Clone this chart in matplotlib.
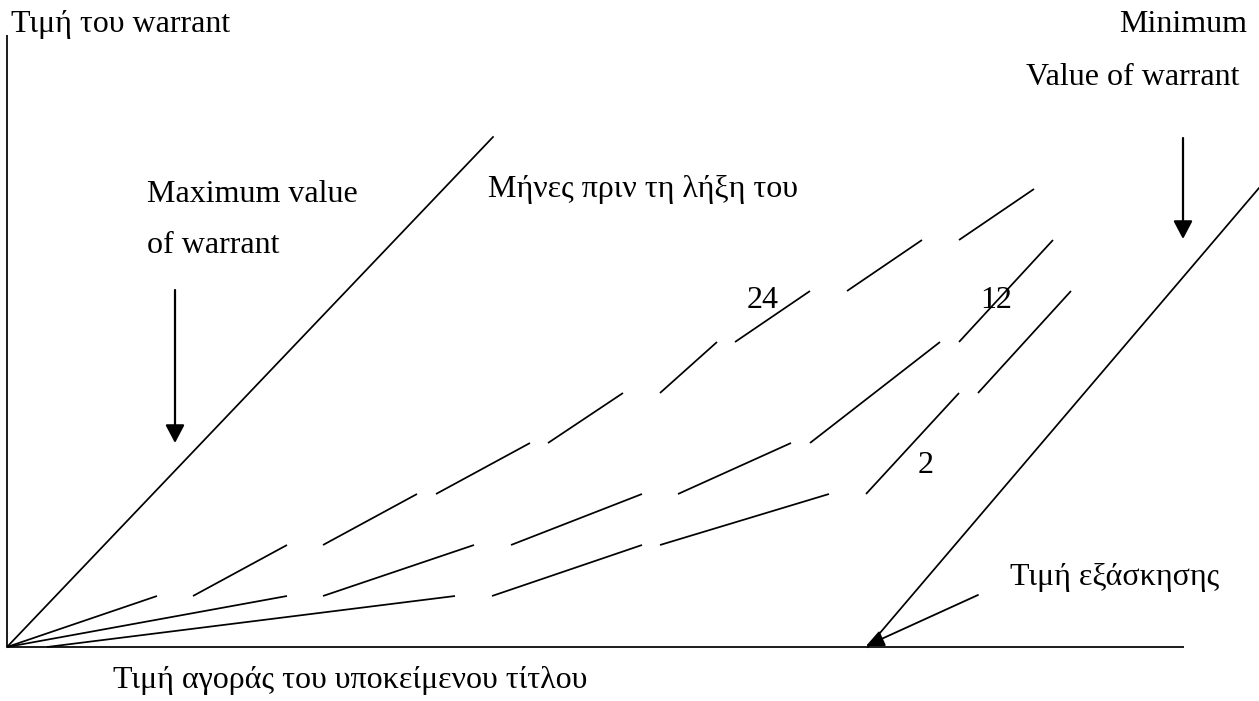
import matplotlib
matplotlib.use("Agg")
import matplotlib.pyplot as plt

# ---- data (diagram coordinates: x = market price of the underlying, y = warrant price) ----
axis_y_top = 612
axis_x_right = 1177

max_line_x = [0, 486]
max_line_y = [0, 510]

min_line_x = [861, 1252]
min_line_y = [0, 459]

# dashed curves: each entry is a segment [x0, x1], [y0, y1]
curve24_x = [[0, 150], [186, 280], [316, 410], [429, 523], [541, 616],
             [653, 710], [728, 803], [840, 915], [952, 1027]]
curve24_y = [[0, 51], [51, 102], [102, 153], [153, 204], [204, 254],
             [254, 305], [305, 356], [356, 407], [407, 458]]

curve12_x = [[0, 280], [316, 467], [504, 635], [671, 784], [803, 933], [952, 1046]]
curve12_y = [[0, 51], [51, 102], [102, 153], [153, 204], [204, 305], [305, 407]]

curve2_x = [[40, 448], [485, 635], [653, 822], [859, 952], [971, 1064]]
curve2_y = [[0, 51], [51, 102], [102, 153], [153, 254], [254, 356]]

curve_labels = ["24", "12", "2"]
curve_label_pos = [(740, 339), (973, 339), (911, 174)]

fig = plt.figure(figsize=(12.59, 7.01), dpi=100)
ax = fig.add_axes([0, 0, 1, 1])
ax.set_xlim(-7, 1252)
ax.set_ylim(-54, 647)
ax.axis("off")

FONT = ["Liberation Serif", "DejaVu Serif"]
FS = 23
LW = 1.25

# axes of the diagram
ax.plot([0, 0], [0, axis_y_top], color="black", lw=LW, solid_capstyle="butt")
ax.plot([0, axis_x_right], [0, 0], color="black", lw=LW, solid_capstyle="butt")

# max and min value lines
ax.plot(max_line_x, max_line_y, color="black", lw=LW)
ax.plot(min_line_x, min_line_y, color="black", lw=LW)

# dashed curves
for xs, ys in ((curve24_x, curve24_y), (curve12_x, curve12_y), (curve2_x, curve2_y)):
    for sx, sy in zip(xs, ys):
        ax.plot(sx, sy, color="black", lw=LW, solid_capstyle="butt")

for lab, (lx, ly) in zip(curve_labels, curve_label_pos):
    ax.text(lx, ly, lab, family=FONT, fontsize=FS, ha="left", va="baseline")

# arrows
aprops = dict(arrowstyle="-|>,head_length=0.55,head_width=0.29", color="black",
              lw=1.6, shrinkA=0, shrinkB=0, mutation_scale=20)
ax.annotate("", xy=(168, 204), xytext=(168, 357), arrowprops=aprops)
ax.annotate("", xy=(1176, 408), xytext=(1176, 509), arrowprops=aprops)
aprops2 = dict(arrowstyle="-|>,head_length=0.55,head_width=0.25", color="black",
               lw=1.3, shrinkA=0, shrinkB=0, mutation_scale=20)
ax.annotate("", xy=(859, 1), xytext=(971, 52), arrowprops=aprops2)

# texts
ax.text(4, 615, "Τιμή του warrant", family=FONT, fontsize=FS, ha="left", va="baseline")
ax.text(1240, 615, "Minimum", family=FONT, fontsize=FS, ha="right", va="baseline")
ax.text(1233, 562, "Value of warrant", family=FONT, fontsize=FS, ha="right", va="baseline")
ax.text(140, 445, "Maximum value", family=FONT, fontsize=FS, ha="left", va="baseline")
ax.text(140, 394, "of warrant", family=FONT, fontsize=FS, ha="left", va="baseline")
ax.text(481, 450, "Μήνες πριν τη λήξη του", family=FONT, fontsize=FS, ha="left", va="baseline")
ax.text(1003, 62, "Τιμή εξάσκησης", family=FONT, fontsize=FS, ha="left", va="baseline")
ax.text(106, -41, "Τιμή αγοράς του υποκείμενου τίτλου", family=FONT, fontsize=FS,
        ha="left", va="baseline")

fig.savefig("out.png", dpi=100, facecolor="white")
